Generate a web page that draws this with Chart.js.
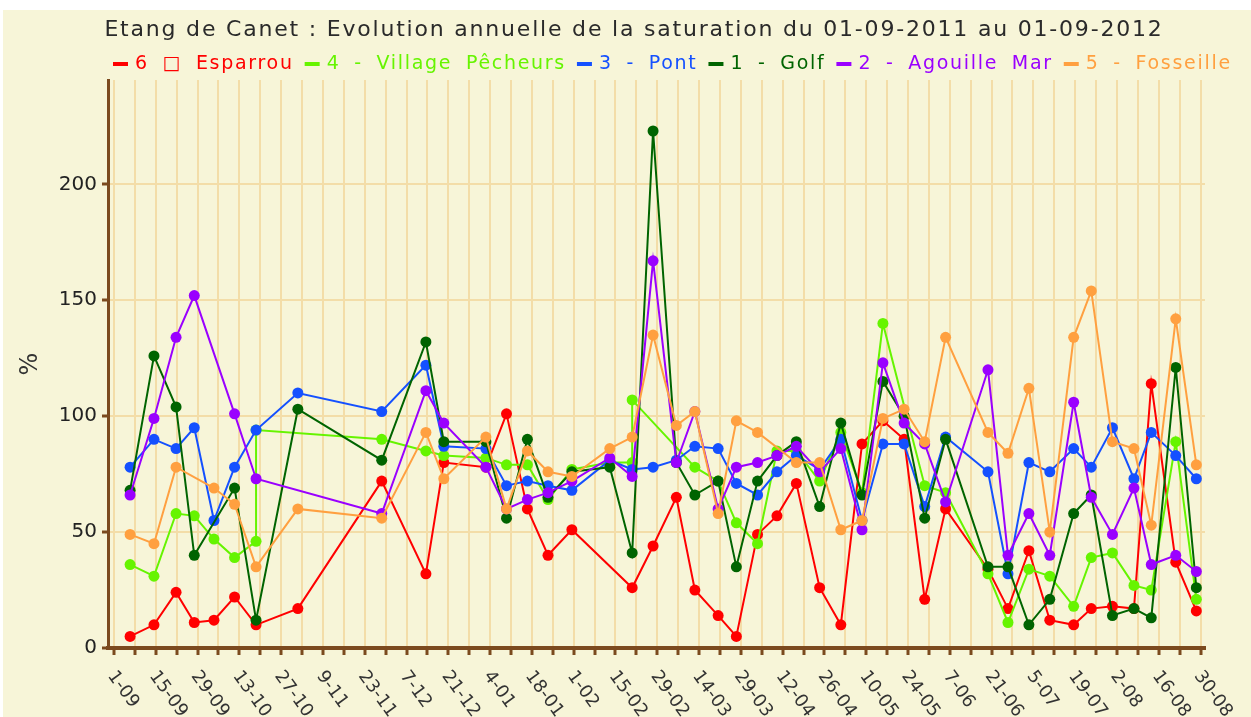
<!DOCTYPE html>
<html>
<head>
<meta charset="utf-8">
<script src="https://cdn.jsdelivr.net/npm/chart.js@4/dist/chart.umd.min.js"></script>
<style>
  html, body { margin: 0; padding: 0; background: #fff; }
  #wrap { width: 1251px; height: 717px; }
</style>
</head>
<body>
<div id="wrap"><canvas id="canvas1" width="1251" height="717"></canvas></div>
<script>
const ctx = document.getElementById('canvas1').getContext('2d')

// days since 01-09-2011 for each measurement (a date appears twice where a series has two readings)
const dates = [5.4, 13.4, 20.8, 26.9, 33.5, 40.4, 47.6, 47.6, 61.6, 89.7,
  104.5, 110.5, 124.6, 131.5, 138.5, 145.4, 153.4, 166.1, 173.6, 173.6,
  180.6, 188.4, 194.6, 202.4, 208.5, 215.6, 222.1, 228.6, 236.4, 243.5,
  250.6, 257.6, 264.7, 271.6, 278.6, 292.8, 299.5, 306.5, 313.5, 321.5,
  327.4, 334.5, 341.7, 347.5, 355.7, 362.6]

const esparrou = [5, 10, 24, 11, 12, 22, 10, null, 17, 72,
  32, 80, 78, 101, 60, 40, 51, null, 26, null,
  44, 65, 25, 14, 5, 49, 57, 71, 26, 10,
  88, 98, 90, 21, 60, 34, 17, 42, 12, 10,
  17, 18, 17, 114, 37, 16]
const village = [36, 31, 58, 57, 47, 39, 46, 94, null, 90,
  85, 83, 82, 79, 79, 64, 77, 80, 80, 107,
  null, null, 78, 72, 54, 45, 85, 85, 72, 93,
  67, 140, null, 70, 67, 32, 11, 34, 31, 18,
  39, 41, 27, 25, 89, 21]
const pont = [78, 90, 86, 95, 55, 78, 94, null, 110, 102,
  122, 87, 86, 70, 72, 70, 68, 81, 77, null,
  78, 81, 87, 86, 71, 66, 76, 83, 77, 90,
  55, 88, 88, 61, 91, 76, 32, 80, 76, 86,
  78, 95, 73, 93, 83, 73]
const golf = [68, 126, 104, 40, null, 69, 12, null, 103, 81,
  132, 89, 89, 56, 90, 65, 76, 78, 41, null,
  223, 80, 66, 72, 35, 72, 83, 89, 61, 97,
  66, 115, 100, 56, 90, 35, 35, 10, 21, 58,
  66, 14, 17, 13, 121, 26]
const agouille = [66, 99, 134, 152, null, 101, 73, null, null, 58,
  111, 97, 78, 60, 64, 67, 72, 82, 74, null,
  167, 80, 102, 60, 78, 80, 83, 87, 76, 86,
  51, 123, 97, 88, 63, 120, 40, 58, 40, 106,
  65, 49, 69, 36, 40, 33]
const fosseille = [49, 45, 78, null, 69, 62, 35, null, 60, 56,
  93, 73, 91, 60, 85, 76, 74, 86, 91, null,
  135, 96, 102, 58, 98, 93, null, 80, 80, 51,
  55, 99, 103, 89, 134, 93, 84, 112, 50, 134,
  154, 89, 86, 53, 142, 79]

const names = ['6 \u25A1 Esparrou', '4 - Village P\u00eacheurs', '3 - Pont', '1 - Golf', '2 - Agouille Mar', '5 - Fosseille']
const colors = ['#ff0000', '#66f400', '#1450ff', '#006400', '#9a00ff', '#ffa040']
const series = [esparrou, village, pont, golf, agouille, fosseille]

const title = 'Etang de Canet : Evolution annuelle de la saturation du 01-09-2011 au 01-09-2012'
const xLabels = ['1-09', '15-09', '29-09', '13-10', '27-10', '9-11', '23-11', '7-12', '21-12', '4-01',
  '18-01', '1-02', '15-02', '29-02', '14-03', '29-03', '12-04', '26-04', '10-05', '24-05',
  '7-06', '21-06', '5-07', '19-07', '2-08', '16-08', '30-08']
const yTicks = [0, 50, 100, 150, 200]

const brown = '#7b4a1e'
const gridCol = '#f3dda8'
const font = 'DejaVu Sans'

const xTicks = []
for (let d = 0; d <= 364; d += 7) xTicks.push(d)

const background = {
  id: 'background',
  beforeDraw(chart) {
    const c = chart.ctx
    c.save()
    c.fillStyle = '#ffffff'
    c.fillRect(0, 0, chart.width, chart.height)
    c.fillStyle = '#f7f5d8'
    c.fillRect(3, 10, chart.width - 3, chart.height - 10)
    c.restore()
  }
}

// title + legend in one row, running off the right edge like the original
const header = {
  id: 'header',
  afterDraw(chart) {
    const c = chart.ctx
    c.save()
    c.textBaseline = 'middle'
    c.font = '22px "' + font + '"'
    c.letterSpacing = '1.8px'
    c.fillStyle = '#2a2a2a'
    c.textAlign = 'center'
    c.fillText(title, 634, 30)

    c.font = '19px "' + font + '"'
    c.letterSpacing = '1.7px'
    c.wordSpacing = '6px'
    c.textAlign = 'left'
    let x = 113
    const y = 64
    chart.data.datasets.forEach(ds => {
      c.fillStyle = ds.borderColor
      c.fillRect(x, y - 2, 15, 4)
      c.fillText(ds.label, x + 22, y)
      x += 22 + c.measureText(ds.label).width + 11
    })
    c.restore()
  }
}

// slanted date labels under the x axis
const dateLabels = {
  id: 'dateLabels',
  afterDraw(chart) {
    const s = chart.scales.x
    const c = chart.ctx
    c.save()
    c.font = '18px "' + font + '"'
    c.fillStyle = '#333'
    c.textAlign = 'left'
    c.textBaseline = 'middle'
    s.ticks.forEach((t, i) => {
      if (i % 2) return
      const px = s.getPixelForValue(t.value)
      c.save()
      c.translate(px - 3, s.top + 25)
      c.rotate(54 * Math.PI / 180)
      c.fillText(xLabels[i / 2], 0, 0)
      c.restore()
    })
    c.restore()
  }
}

const datasets = series.map((vals, i) => ({
  label: names[i],
  data: dates.map((d, j) => ({ x: d, y: vals[j] })),
  borderColor: colors[i],
  backgroundColor: colors[i],
  pointBackgroundColor: colors[i],
  pointBorderWidth: 0,
  pointRadius: 5.5,
  borderWidth: 2,
  spanGaps: true,
  tension: 0,
  order: series.length - i
}))

const myChart = new Chart(ctx, {
  type: 'line',
  data: { datasets },
  plugins: [background, header, dateLabels],
  options: {
    responsive: false,
    animation: false,
    layout: { padding: { left: 16, right: 46, top: 80, bottom: 0 } },
    plugins: {
      legend: { display: false },
      tooltip: { enabled: false },
      title: { display: false }
    },
    scales: {
      x: {
        type: 'linear',
        min: -2,
        max: 365.5,
        afterBuildTicks: s => { s.ticks = xTicks.map(v => ({ value: v })) },
        afterFit: s => { s.height = 69 },
        ticks: { display: false },
        grid: { color: gridCol, lineWidth: 2, tickColor: brown, tickLength: 7, tickWidth: 3 },
        border: { color: brown, width: 4 }
      },
      y: {
        min: 0,
        max: 245,
        afterBuildTicks: s => { s.ticks = yTicks.map(v => ({ value: v })) },
        afterFit: s => { s.width = 92 },
        ticks: { color: '#222', padding: 5, font: { family: font, size: 20 } },
        grid: { color: gridCol, lineWidth: 2, tickColor: brown, tickLength: 6, tickWidth: 3 },
        border: { color: brown, width: 3 },
        title: { display: true, text: '%', color: '#333', font: { family: font, size: 24 }, padding: { top: 0, bottom: 4 } }
      }
    }
  }
})
</script>
</body>
</html>
